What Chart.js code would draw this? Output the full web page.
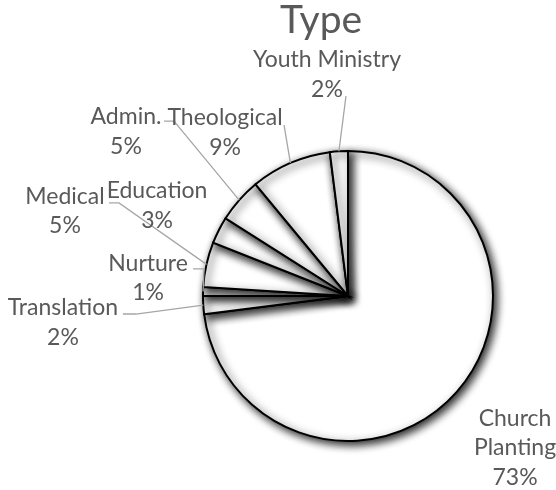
<!DOCTYPE html>
<html>
<head>
<meta charset="utf-8">
<script src="https://cdn.jsdelivr.net/npm/chart.js@4"></script>
<style>
  html, body { margin: 0; padding: 0; background: #ffffff; }
  #wrap { width: 556px; height: 490px; }
</style>
</head>
<body>
<div id="wrap"><canvas id="c" width="556" height="490"></canvas></div>
<script>
// ---- data ----
const categories = ["Church Planting", "Translation", "Nurture", "Medical", "Education", "Admin.", "Theological", "Youth Ministry"];
const shares = [73, 2, 1, 5, 3, 5, 9, 2];
const titleText = "Type";

// ---- label layout (anchor relative to pie centre, in units of radius; leader start relative to anchor in px) ----
const labelLayout = [
  { ax: 1.152, ay: 0.841, lines: ["Church", "Planting"], leader: null },
  { ax: -1.966, ay: 0.076, leader: { sx: 60, sy: 7, stub: 13 } },
  { ax: -1.379, ay: -0.228, leader: { sx: 45, sy: 6, stub: 11 } },
  { ax: -1.952, ay: -0.690, leader: { sx: 44, sy: 7, stub: 10 } },
  { ax: -1.317, ay: -0.731, leader: null },
  { ax: -1.531, ay: -1.241, leader: { sx: 38, sy: 5, stub: 10 } },
  { ax: -0.848, ay: -1.234, leader: { sx: 59, sy: 8, stub: 0 } },
  { ax: -0.145, ay: -1.634, leader: { sx: 19, sy: 37, stub: 0 } }
];

const FONT = "Lato, 'Open Sans', sans-serif";
const TEXT = "#595959";

const shadowPlugin = {
  id: 'sliceShadow',
  beforeDatasetsDraw(chart) {
    const c = chart.ctx;
    c.save();
    c.shadowColor = 'rgba(0,0,0,0.9)';
    c.shadowBlur = 9;
    c.shadowOffsetX = 3;
    c.shadowOffsetY = 3;
  },
  afterDatasetsDraw(chart) {
    chart.ctx.restore();
  }
};

const labelPlugin = {
  id: 'pieLabels',
  afterDraw(chart) {
    const ctx = chart.ctx;
    const meta = chart.getDatasetMeta(0);
    const data = chart.data.datasets[0].data;
    const total = data.reduce((a, b) => a + b, 0);
    const first = meta.data[0].getProps(['x', 'y', 'outerRadius'], true);
    const cx = first.x, cy = first.y, R = first.outerRadius;
    ctx.save();
    // title
    ctx.fillStyle = TEXT;
    ctx.font = "39px " + FONT;
    ctx.textAlign = 'center';
    ctx.textBaseline = 'alphabetic';
    ctx.fillText(titleText, cx - 0.186 * R, cy - 1.814 * R);

    const fs = 23, lh = 29.5;
    ctx.font = fs + "px " + FONT;
    meta.data.forEach((arc, i) => {
      const p = arc.getProps(['startAngle', 'endAngle', 'outerRadius', 'x', 'y'], true);
      const L = labelLayout[i];
      const axp = cx + L.ax * R, ayp = cy + L.ay * R;
      const pct = Math.round(data[i] / total * 100) + '%';
      const lines = (L.lines || [chart.data.labels[i]]).concat([pct]);
      // leader
      if (L.leader) {
        const mid = (p.startAngle + p.endAngle) / 2;
        const ex = p.x + Math.cos(mid) * p.outerRadius;
        const ey = p.y + Math.sin(mid) * p.outerRadius;
        const sx = axp + L.leader.sx, sy = ayp + L.leader.sy;
        ctx.strokeStyle = '#a6a6a6';
        ctx.lineWidth = 1.3;
        ctx.beginPath();
        ctx.moveTo(sx, sy);
        if (L.leader.stub) ctx.lineTo(sx + L.leader.stub, sy);
        ctx.lineTo(ex, ey);
        ctx.stroke();
      }
      ctx.fillStyle = TEXT;
      ctx.textAlign = 'center';
      ctx.textBaseline = 'alphabetic';
      lines.forEach((t, k) => {
        ctx.fillText(t, axp, ayp + k * lh + 8);
      });
    });
    ctx.restore();
  }
};

new Chart(document.getElementById('c'), {
  type: 'pie',
  data: {
    labels: categories,
    datasets: [{
      data: shares,
      backgroundColor: '#ffffff',
      borderColor: '#000000',
      borderWidth: 2,
      borderJoinStyle: 'miter',
      borderAlign: 'center'
    }]
  },
  options: {
    responsive: false,
    animation: false,
    layout: { padding: { left: 202, top: 150, right: 62, bottom: 48 } },
    plugins: {
      legend: { display: false },
      tooltip: { enabled: false },
      title: { display: false }
    }
  },
  plugins: [shadowPlugin, labelPlugin]
});
</script>
</body>
</html>
